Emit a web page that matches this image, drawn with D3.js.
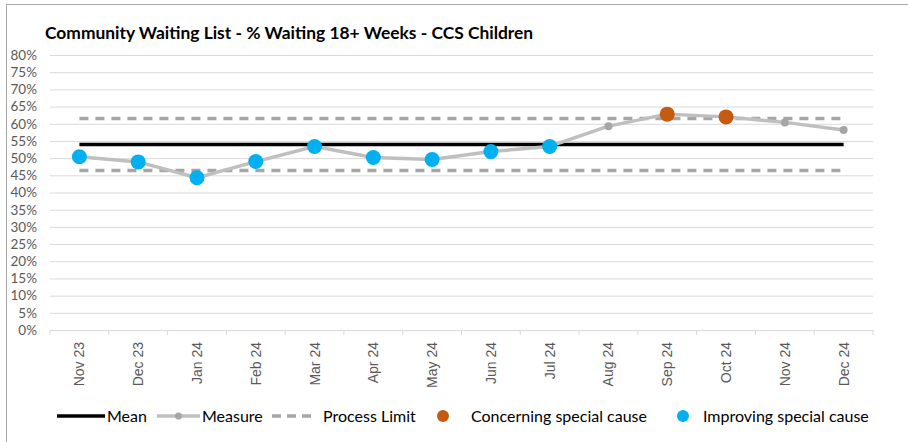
<!DOCTYPE html>
<html>
<head>
<meta charset="utf-8">
<script src="https://cdn.jsdelivr.net/npm/d3@7"></script>
<style>
  html, body { margin: 0; padding: 0; background: #fff; }
  svg { display: block; font-family: Lato, "Open Sans", sans-serif; }
</style>
</head>
<body>
<svg id="chart" width="908" height="442"></svg>
<script>
const months = ["Nov 23","Dec 23","Jan 24","Feb 24","Mar 24","Apr 24","May 24","Jun 24","Jul 24","Aug 24","Sep 24","Oct 24","Nov 24","Dec 24"];
const measure = [50.4, 48.9, 44.3, 49.0, 53.4, 50.2, 49.6, 51.9, 53.4, 59.3, 62.8, 62.0, 60.4, 58.2];
const meanVals = [54.0,54.0,54.0,54.0,54.0,54.0,54.0,54.0,54.0,54.0,54.0,54.0,54.0,54.0];
const upperLimit = [61.5,61.5,61.5,61.5,61.5,61.5,61.5,61.5,61.5,61.5,61.5,61.5,61.5,61.5];
const lowerLimit = [46.4,46.4,46.4,46.4,46.4,46.4,46.4,46.4,46.4,46.4,46.4,46.4,46.4,46.4];
// special cause flags: "improving", "concerning", or "" (none)
const special = ["improving","improving","improving","improving","improving","improving","improving","improving","improving","","concerning","concerning","",""];
const yTicks = [0,5,10,15,20,25,30,35,40,45,50,55,60,65,70,75,80];
const title = "Community Waiting List - % Waiting 18+ Weeks - CCS Children";
const legendItems = ["Mean","Measure","Process Limit","Concerning special cause","Improving special cause"];

const svg = d3.select("#chart");
const L = 50, R = 873, T = 55, B = 330;
const x = d3.scaleBand().domain(months).range([L, R]).paddingInner(0).paddingOuter(0);
const y = d3.scaleLinear().domain([0, 80]).range([B, T]);
const cx = d => x(d) + x.bandwidth() / 2;

// outer border
svg.append("rect").attr("x", 6.5).attr("y", 4.5).attr("width", 910).attr("height", 450)
  .attr("fill", "none").attr("stroke", "#A6A6A6").attr("stroke-width", 1);

// title
svg.append("text").attr("x", 45).attr("y", 39).attr("font-size", 17.4).attr("font-weight", "bold")
  .attr("fill", "#000").text(title);

// gridlines
const yAxis = d3.axisLeft(y).tickValues(yTicks).tickFormat(d => d + "%").tickSize(-(R - L)).tickPadding(13);
const gy = svg.append("g").attr("transform", `translate(${L},0)`).call(yAxis);
gy.select(".domain").remove();
gy.selectAll(".tick line").attr("stroke", "#D9D9D9").attr("stroke-width", 1);
gy.selectAll(".tick text").attr("fill", "#595959").attr("font-size", 13.5).attr("font-family", "Lato, sans-serif");

// x axis
const xAxis = d3.axisBottom(x).tickSize(0).tickPadding(0);
const gx = svg.append("g").attr("transform", `translate(0,${B})`).call(xAxis);
gx.select(".domain").attr("stroke", "#D9D9D9");
gx.selectAll(".tick text").remove();
const seps = months.map(m => x(m)).concat([R]);
gx.selectAll(".sep").data(seps).enter().append("line").attr("class","sep")
  .attr("x1", d => d).attr("x2", d => d).attr("y1", 0).attr("y2", 5).attr("stroke", "#D9D9D9");
gx.selectAll(".lab").data(months).enter().append("text").attr("class","lab")
  .attr("transform", d => `translate(${cx(d) + 5},${12}) rotate(-90)`)
  .attr("text-anchor", "end").attr("fill", "#595959").attr("font-size", 14)
  .text(d => d);

// limits
const extLine = arr => d3.line().x((d, i) => cx(months[i])).y(d => y(d))(arr);
[upperLimit, lowerLimit].forEach(arr => {
  svg.append("path").attr("d", extLine(arr)).attr("fill", "none")
    .attr("stroke", "#A6A6A6").attr("stroke-width", 3.5).attr("stroke-dasharray", "9,7");
});

// mean
svg.append("path").attr("d", extLine(meanVals)).attr("fill", "none")
  .attr("stroke", "#000").attr("stroke-width", 3.5);

// measure line
svg.append("path").attr("d", extLine(measure)).attr("fill", "none")
  .attr("stroke", "#BFBFBF").attr("stroke-width", 3.5).attr("stroke-linejoin", "round");
svg.selectAll(".mdot").data(measure).enter().append("circle").attr("class", "mdot")
  .attr("cx", (d, i) => cx(months[i])).attr("cy", d => y(d)).attr("r", 4)
  .attr("fill", "#A6A6A6");

// special cause markers
const colors = { improving: "#00B0F0", concerning: "#C55A11" };
svg.selectAll(".sc").data(measure.map((v, i) => ({ v, i, s: special[i] })).filter(d => d.s))
  .enter().append("circle").attr("class", "sc")
  .attr("cx", d => cx(months[d.i])).attr("cy", d => y(d.v)).attr("r", 7.5)
  .attr("fill", d => colors[d.s]);

// legend
const lg = svg.append("g").attr("font-size", 16).attr("fill", "#000");
const ly = 416;
lg.append("line").attr("x1", 57).attr("x2", 105).attr("y1", ly).attr("y2", ly).attr("stroke", "#000").attr("stroke-width", 3.5);
lg.append("text").attr("x", 107).attr("y", ly + 6).text(legendItems[0]);
lg.append("line").attr("x1", 157).attr("x2", 200).attr("y1", ly).attr("y2", ly).attr("stroke", "#BFBFBF").attr("stroke-width", 3.5);
lg.append("circle").attr("cx", 178.5).attr("cy", ly).attr("r", 3.5).attr("fill", "#A6A6A6");
lg.append("text").attr("x", 202).attr("y", ly + 6).text(legendItems[1]);
lg.append("line").attr("x1", 272).attr("x2", 315).attr("y1", ly).attr("y2", ly).attr("stroke", "#A6A6A6").attr("stroke-width", 3.5).attr("stroke-dasharray", "9,6");
lg.append("text").attr("x", 323).attr("y", ly + 6).text(legendItems[2]);
lg.append("circle").attr("cx", 443).attr("cy", ly).attr("r", 6).attr("fill", colors.concerning);
lg.append("text").attr("x", 471).attr("y", ly + 6).text(legendItems[3]);
lg.append("circle").attr("cx", 683).attr("cy", ly).attr("r", 6).attr("fill", colors.improving);
lg.append("text").attr("x", 703).attr("y", ly + 6).text(legendItems[4]);
</script>
</body>
</html>
